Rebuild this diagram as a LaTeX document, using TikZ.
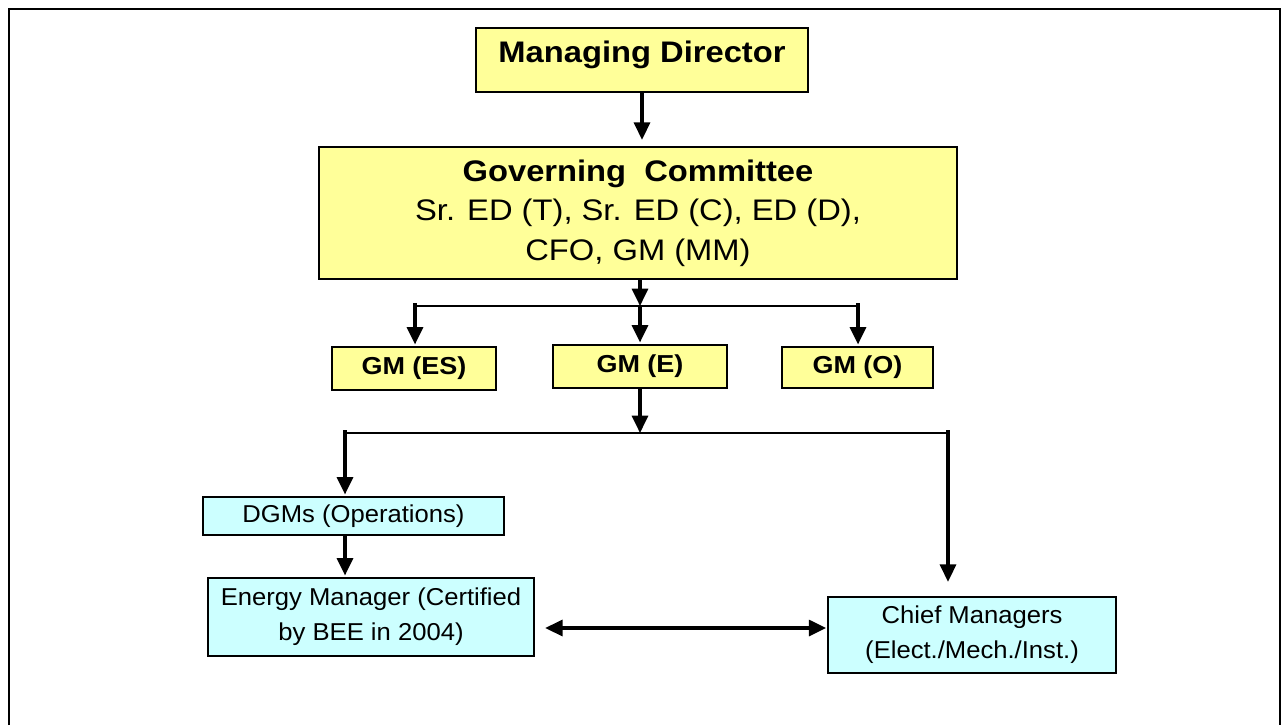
\documentclass[tikz,border=0pt]{standalone}
\usepackage{fontspec}
\setmainfont{Liberation Sans}[FakeStretch=1.1]
\newfontfamily\lowfont{Liberation Sans}[FakeStretch=1.05]
\usetikzlibrary{positioning,arrows.meta}
\definecolor{boxyellow}{HTML}{FFFF99}
\definecolor{boxcyan}{HTML}{CCFFFF}

\begin{document}
\begin{tikzpicture}[x=0.75pt,y=-0.75pt,topbox/.style={draw, fill=boxyellow, line width=0.8pt, inner sep=0pt, align=center},lowbox/.style={draw, fill=boxcyan, line width=0.8pt, inner sep=0pt, align=center, font=\lowfont\fontsize{18.3}{26.5}\selectfont},arr/.style={line width=2.4pt, -{Triangle[width=12pt,length=13pt]}},bar/.style={line width=1.1pt}]
\useasboundingbox (0,0) rectangle (1282,725);
\draw[line width=1.8pt] (9,725) -- (9,9) -- (1280,9) -- (1280,725);
\node[topbox, minimum width=249pt, minimum height=48pt, text height=16pt, text depth=13pt, font=\bfseries\fontsize{22.3}{26}\selectfont] (md) at (642,60) {Managing Director};
\node[topbox, minimum width=478.5pt, minimum height=99pt, font=\fontsize{22.3}{29.5}\selectfont] (gc) at (638,213) {{\bfseries Governing~~Committee}\\Sr. ED (T), Sr. ED (C), ED (D),\\CFO, GM (MM)};
\node[topbox, minimum width=123pt, minimum height=32.25pt, font=\bfseries\fontsize{18.4}{22}\selectfont] (gmes) at (414,368.5) {GM (ES)};
\node[topbox, minimum width=130.5pt, minimum height=32.25pt, font=\bfseries\fontsize{18.4}{22}\selectfont] (gme) at (640,366.5) {GM (E)};
\node[topbox, minimum width=113.25pt, minimum height=30.75pt, font=\bfseries\fontsize{18.4}{22}\selectfont] (gmo) at (857.5,367.5) {GM (O)};
\node[lowbox, minimum width=225.75pt, minimum height=28.5pt] (dgm) at (353.5,516) {DGMs (Operations)};
\node[lowbox, minimum width=244.5pt, minimum height=58.5pt] (em) at (371,617) {Energy Manager (Certified\\by BEE in 2004)};
\node[lowbox, minimum width=216pt, minimum height=57pt] (chief) at (972,635) {Chief Managers\\(Elect./Mech./Inst.)};
\coordinate (b1) at (640,306);
\coordinate (b1l) at (415,306);
\coordinate (b1r) at (858,306);
\coordinate (b2) at (640,433);
\coordinate (b2l) at (345,433);
\coordinate (b2r) at (948,433);
\coordinate (link) at (700,628);
\draw[arr, shorten >=5pt] (md.south) -- (md.south |- gc.north);
\draw[arr] (gc.south -| b1) -- (b1);
\draw[bar] (b1l) -- (b1r);
\draw[arr, shorten >=1.5pt] ([yshift=2pt]b1l) -- (b1l |- gmes.north);
\draw[arr, shorten >=1.5pt] (b1) -- (b1 |- gme.north);
\draw[arr, shorten >=1.5pt] ([yshift=2pt]b1r) -- (b1r |- gmo.north);
\draw[arr] (gme.south -| b2) -- (b2);
\draw[bar] (b2l) -- (b2r);
\draw[arr, shorten >=1.5pt] ([yshift=2pt]b2l) -- (b2l |- dgm.north);
\draw[arr, shorten >=1.5pt] (dgm.south -| b2l) -- (b2l |- em.north);
\draw[arr, shorten >=11pt] ([yshift=2pt]b2r) -- (b2r |- chief.north);
\draw[line width=2.4pt, {Triangle[width=12pt,length=13pt]}-{Triangle[width=12pt,length=13pt]}, shorten <=8pt, shorten >=1pt] (em.east |- link) -- (chief.west |- link);
\end{tikzpicture}
\end{document}
